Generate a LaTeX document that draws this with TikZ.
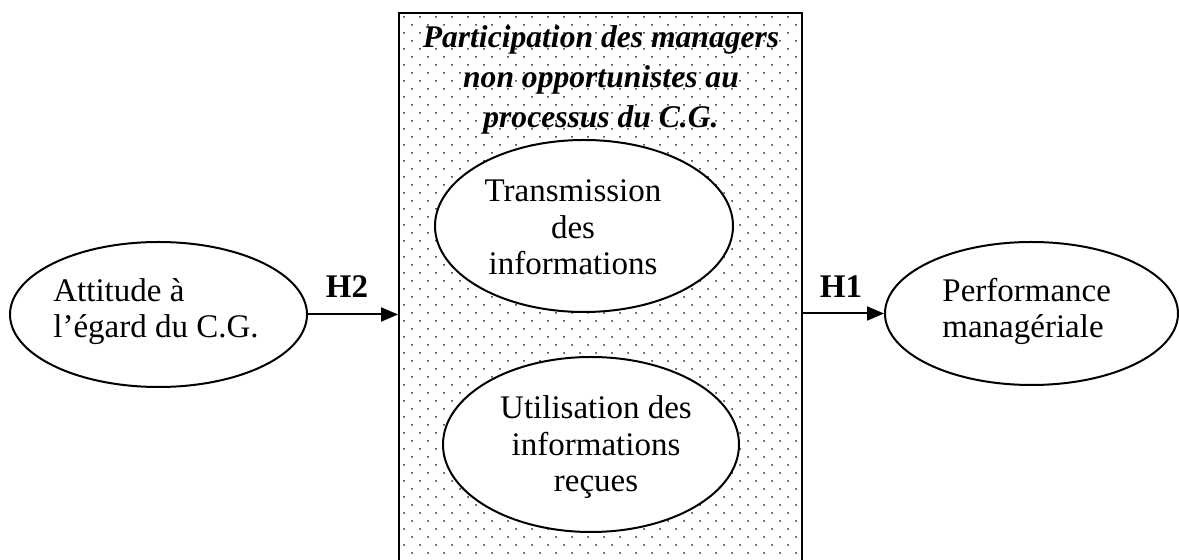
\documentclass[tikz,border=0pt]{standalone}
\usepackage{fontspec}
\setmainfont{Liberation Serif}
\usetikzlibrary{arrows.meta,shapes.geometric}
\begin{document}
\begin{tikzpicture}[x=0.5pt,y=-0.5pt,
  oval/.style={draw, line width=1pt, ellipse, fill=white, inner sep=0pt},
  conn/.style={line width=1pt, -{Triangle[length=8.5pt,width=7pt]}},
  txt/.style={inner sep=0pt, font=\fontsize{16.5}{18}\selectfont},
  txtb/.style={inner sep=0pt, font=\fontsize{16.5}{18.25}\selectfont},
  hyp/.style={inner sep=0pt, font=\fontsize{16.5}{18}\selectfont\bfseries, anchor=base},
  dot/.style={fill=black!85}]
\clip (0,0) rectangle (1179,560);
\node[draw, line width=1pt, minimum width=201.5pt, minimum height=280pt, inner sep=0pt, anchor=north west] (box) at (398,12) {};
\begin{scope}
  \clip (box.north west) rectangle (box.south east);
  \foreach \j in {0,...,70} {
    \pgfmathsetmacro{\off}{8*mod(\j,2)}
    \foreach \i in {0,...,25} {
      \fill[dot] ({404+16*\i+\off}, {17+8*\j}) circle (0.5pt);
    }
  }
\end{scope}
\node[oval, minimum width=148.5pt, minimum height=72.5pt] (L) at (158.5,314.5) {};
\node[oval, minimum width=146.5pt, minimum height=71.5pt] (R) at (1031.5,313.5) {};
\node[oval, minimum width=149pt, minimum height=86pt] (T) at (584,226) {};
\node[oval, minimum width=148pt, minimum height=87.5pt] (B) at (591,444.5) {};

\node[txt, anchor=base west] (Ltxt) at (53,302) {\begin{tabular}[t]{@{}l@{}}Attitude à\\l’égard du C.G.\end{tabular}};
\node[txt, anchor=base west] (Rtxt) at (942,302) {\begin{tabular}[t]{@{}l@{}}Performance\\managériale\end{tabular}};
\node[txtb, anchor=base] (Ttxt) at (573,202) {\begin{tabular}[t]{@{}c@{}}Transmission\\des\\informations\end{tabular}};
\node[txtb, anchor=base] (Btxt) at (596,419) {\begin{tabular}[t]{@{}c@{}}Utilisation des\\informations\\reçues\end{tabular}};
\node[anchor=base, inner sep=0pt, font=\fontsize{15.8}{20}\selectfont\bfseries\itshape] (title) at (601,48) {\begin{tabular}[t]{@{}c@{}}Participation des managers\\non opportunistes au\\processus du C.G.\end{tabular}};

\draw[conn] (L.east) -- (L.east -| box.west);
\draw[conn] (box.east |- R.west) -- (R.west);
\node[hyp] (h2) at (347,298) {H2};
\node[hyp] (h1) at (841,298) {H1};
\end{tikzpicture}
\end{document}
